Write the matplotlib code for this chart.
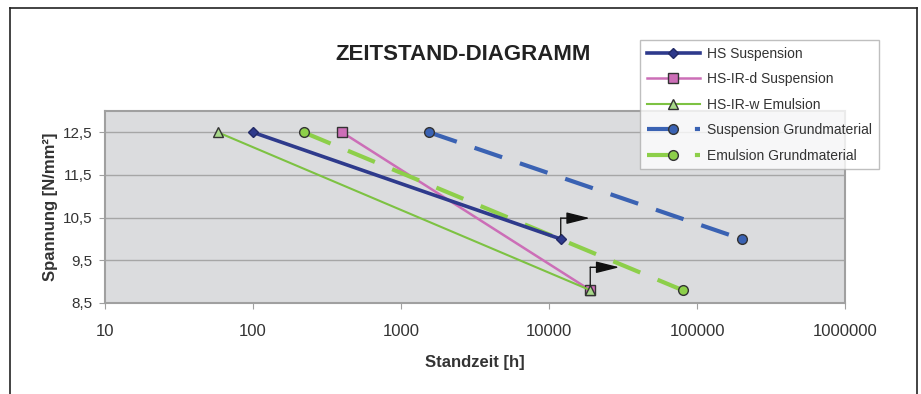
import numpy as np
import matplotlib
matplotlib.use("Agg")
import matplotlib.pyplot as plt
import matplotlib.transforms as mtransforms
from matplotlib.ticker import FixedLocator, FuncFormatter, NullLocator

plt.rcParams['font.family'] = ['Liberation Sans', 'DejaVu Sans']

# data
hs_susp_t = [100, 12000]
hs_susp_s = [12.5, 10.0]
hsird_susp_t = [400, 19000]
hsird_susp_s = [12.5, 8.8]
hsirw_emul_t = [58, 19000]
hsirw_emul_s = [12.5, 8.8]
susp_grund_t = [1550, 200000]
susp_grund_s = [12.5, 10.0]
emul_grund_t = [220, 80000]
emul_grund_s = [12.5, 8.8]

# runouts (still running) marked with an arrow
runout_t = [12000, 19000]
runout_s = [10.0, 8.8]

x_ticks = [10, 100, 1000, 10000, 100000, 1000000]
y_ticks = [8.5, 9.5, 10.5, 11.5, 12.5]

txt = '#333333'

fig = plt.figure(figsize=(9.21, 3.94), dpi=100)
ax = fig.add_axes([105 / 921, 1 - 303 / 394, 740 / 921, 192 / 394])
ax.set_facecolor('#dbdcde')

ax.plot(hs_susp_t, hs_susp_s, color='#2e3a8c', lw=2.6, marker='D', ms=5.5,
        mfc='#2e3a8c', mec='#222a66', label='HS Suspension', zorder=4)
ax.plot(hsird_susp_t, hsird_susp_s, color='#cc6eb7', lw=1.8, marker='s', ms=6.5,
        mfc='#cc6eb7', mec='#333333', label='HS-IR-d Suspension', zorder=3)
ax.plot(hsirw_emul_t, hsirw_emul_s, color='#7dc242', lw=1.5, marker='^', ms=6.5,
        mfc='#a8d88a', mec='#333333', label='HS-IR-w Emulsion', zorder=3)
ax.plot(susp_grund_t, susp_grund_s, color='#3a62b3', lw=3, dashes=(7, 4.5),
        marker='o', ms=7, mfc='#3a62b3', mec='#333333', dash_capstyle='butt',
        label='Suspension Grundmaterial', zorder=3)
ax.plot(emul_grund_t, emul_grund_s, color='#8dcf4a', lw=3, dashes=(7, 4.5),
        marker='o', ms=7, mfc='#8dcf4a', mec='#333333', dash_capstyle='butt',
        label='Emulsion Grundmaterial', zorder=3)

# L-shaped runout arrows
for (t, s, up) in zip(runout_t, runout_s, [15, 16.5]):
    start = mtransforms.offset_copy(ax.transData, fig=fig, x=0, y=up, units='points')
    end = mtransforms.offset_copy(ax.transData, fig=fig, x=21, y=up, units='points')
    ax.annotate('', xy=(t, s), xycoords=start, xytext=(t, s), textcoords='data',
                arrowprops=dict(arrowstyle='-', color='#222222', lw=1.0,
                                shrinkA=3, shrinkB=0), zorder=5)
    ax.annotate('', xy=(t, s), xycoords=end, xytext=(t, s), textcoords=start,
                arrowprops=dict(arrowstyle='-|>,head_length=0.8,head_width=0.2',
                                mutation_scale=18, color='#111111', lw=1.0,
                                shrinkA=0, shrinkB=0), zorder=5)

ax.set_xscale('log')
ax.set_xlim(10, 1000000)
ax.set_ylim(8.5, 13.0)
ax.xaxis.set_major_locator(FixedLocator(x_ticks))
ax.xaxis.set_minor_locator(NullLocator())
ax.xaxis.set_major_formatter(FuncFormatter(lambda v, p: '%d' % round(v)))
ax.yaxis.set_major_locator(FixedLocator(y_ticks))
ax.yaxis.set_major_formatter(FuncFormatter(lambda v, p: ('%.1f' % v).replace('.', ',')))
ax.grid(axis='y', color='#a6a6a6', lw=1.0)
ax.set_axisbelow(True)
for sp in ax.spines.values():
    sp.set_color('#a0a0a0')
    sp.set_linewidth(1.5)
ax.tick_params(axis='x', length=4, color='#a0a0a0', labelsize=12, pad=11, labelcolor=txt)
ax.tick_params(axis='y', length=4, color='#a0a0a0', labelsize=11, pad=5, labelcolor=txt)

ax.set_xlabel('Standzeit [h]', fontsize=12, fontweight='bold', color=txt)
ax.xaxis.set_label_coords(0.5, -0.27)
ax.set_ylabel('Spannung [N/mm²]', fontsize=12, fontweight='bold', color=txt)
ax.yaxis.set_label_coords(-0.074, 0.5)
ax.yaxis.label.set_va('center')

fig.text(463 / 921, 1 - 54 / 394, 'ZEITSTAND-DIAGRAMM', fontsize=16,
         fontweight='bold', color='#222222', ha='center', va='center')

leg = fig.legend(loc='upper left', bbox_to_anchor=(640 / 921, 1 - 40 / 394),
                 fontsize=10, frameon=True, fancybox=False, handlelength=3.8,
                 labelspacing=0.82, borderpad=0.5, handletextpad=0.5,
                 borderaxespad=0)
leg.get_frame().set_edgecolor('#b0b0b0')
leg.get_frame().set_linewidth(1.0)
for t in leg.get_texts():
    t.set_color(txt)

# outer frame of the figure
fl = dict(color='#222222', lw=1.2, transform=fig.transFigure)
fig.add_artist(plt.Line2D([9.5 / 921, 9.5 / 921], [0, 1 - 8 / 394], **fl))
fig.add_artist(plt.Line2D([9.5 / 921, 917 / 921], [1 - 8 / 394, 1 - 8 / 394], **fl))
fig.add_artist(plt.Line2D([917 / 921, 917 / 921], [0, 1 - 8 / 394], **fl))

fig.savefig('out.png', dpi=100)
